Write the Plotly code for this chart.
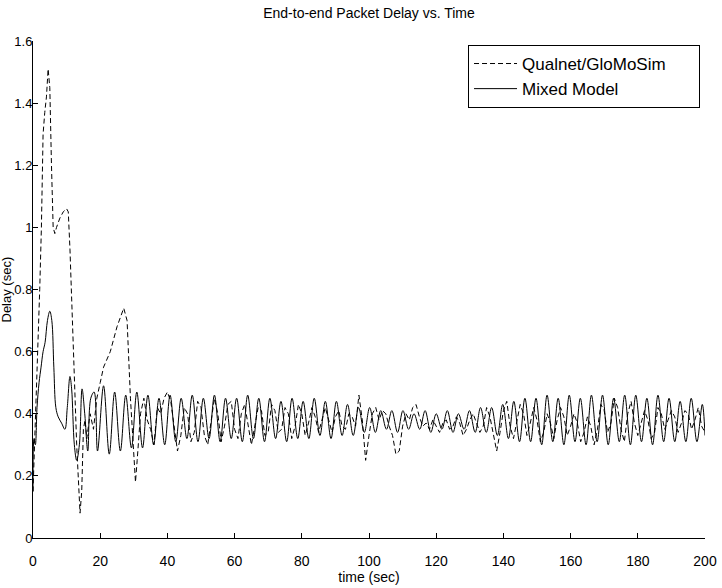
import plotly.graph_objects as go

# ---------------- data ----------------
# Qualnet/GloMoSim (dashed)
qual_t = [0, 0.5, 1.0, 1.5, 2.0, 2.5, 3.0, 3.5, 4.0, 4.5, 5.0, 5.5, 6.0, 6.5, 7.0, 8.0, 9.0, 10.0,
          10.5, 11.0, 12.0, 13.0, 14.0, 14.5, 15.0, 15.5, 16.0, 17.0, 18.0, 19.0, 20.0, 21.0,
          23.0, 25.0, 27.0, 28.0, 29.0, 30.0, 30.5, 31.0, 32.0, 33.0, 34.0, 35.0, 36.0, 37.0,
          38.0, 39.0,
          40, 41, 42, 43, 44, 45, 46, 47, 48, 49, 50, 51, 52, 53, 54, 55, 56, 57, 58, 59,
          60, 61, 62, 63, 64, 65, 66, 67, 68, 69, 70, 71, 72, 73, 74, 75, 76, 77, 78, 79,
          80, 81, 82, 83, 84, 85, 86, 87, 88, 89, 90, 91, 92, 93, 94, 95, 96, 97, 98, 99,
          100, 101, 102, 103, 104, 105, 106, 107, 108, 109, 110, 111, 112, 113, 114, 115, 116, 117, 118, 119,
          120, 121, 122, 123, 124, 125, 126, 127, 128, 129, 130, 131, 132, 133, 134, 135, 136, 137, 138, 139,
          140, 141, 142, 143, 144, 145, 146, 147, 148, 149, 150, 151, 152, 153, 154, 155, 156, 157, 158, 159,
          160, 161, 162, 163, 164, 165, 166, 167, 168, 169, 170, 171, 172, 173, 174, 175, 176, 177, 178, 179,
          180, 181, 182, 183, 184, 185, 186, 187, 188, 189, 190, 191, 192, 193, 194, 195, 196, 197, 198, 199,
          200]
qual_y = [0.15, 0.30, 0.45, 0.60, 0.80, 1.00, 1.30, 1.37, 1.42, 1.51, 1.45, 1.20, 1.00, 0.98, 1.00, 1.03, 1.05, 1.06,
          1.05, 0.93, 0.60, 0.30, 0.08, 0.15, 0.35, 0.38, 0.32, 0.40, 0.35, 0.45, 0.50, 0.55,
          0.60, 0.68, 0.74, 0.70, 0.45, 0.25, 0.18, 0.25, 0.40, 0.45, 0.38, 0.35, 0.30, 0.42,
          0.40, 0.45,
          0.47, 0.44, 0.36, 0.28, 0.33, 0.42, 0.40, 0.31, 0.34, 0.44, 0.42, 0.33, 0.30, 0.38, 0.45, 0.40, 0.31, 0.36, 0.43, 0.44,
          0.35, 0.32, 0.40, 0.43, 0.37, 0.30, 0.36, 0.42, 0.41, 0.33, 0.34, 0.43, 0.41, 0.34, 0.35, 0.42, 0.40, 0.32, 0.36, 0.43,
          0.40, 0.33, 0.37, 0.42, 0.39, 0.34, 0.38, 0.42, 0.38, 0.34, 0.39, 0.41, 0.36, 0.35, 0.40, 0.39, 0.36, 0.46, 0.38, 0.25,
          0.33, 0.40, 0.42, 0.38, 0.41, 0.40, 0.36, 0.33, 0.27, 0.28, 0.36, 0.40, 0.38, 0.42, 0.43, 0.39, 0.36, 0.37, 0.35, 0.38,
          0.36, 0.34, 0.37, 0.38, 0.35, 0.36, 0.39, 0.37, 0.33, 0.35, 0.38, 0.40, 0.37, 0.34, 0.36, 0.42, 0.39, 0.33, 0.28, 0.34,
          0.41, 0.44, 0.36, 0.32, 0.37, 0.43, 0.40, 0.33, 0.37, 0.42, 0.38, 0.31, 0.34, 0.40, 0.37, 0.32, 0.38, 0.42, 0.39, 0.33,
          0.36, 0.40, 0.37, 0.31, 0.34, 0.39, 0.36, 0.30, 0.35, 0.43, 0.41, 0.34, 0.37, 0.45, 0.42, 0.35, 0.31, 0.40, 0.44, 0.37,
          0.33, 0.37, 0.41, 0.38, 0.32, 0.34, 0.42, 0.40, 0.35, 0.38, 0.41, 0.39, 0.34, 0.37, 0.41, 0.40, 0.35, 0.38, 0.42, 0.36,
          0.34]

# Mixed Model (solid)
mixed_t = [0, 0.3, 0.7, 1.2, 1.8, 2.4, 3.0, 3.6, 4.3, 5.0, 5.6, 6.2, 6.8, 7.5, 8.5, 9.5, 10.2, 11.0, 11.5,
           12.3, 13.0, 13.8, 14.6, 15.4, 16.3, 17.2, 18.2, 19.2,
           21.0, 22.7, 24.3, 26.0, 27.6, 29.3, 30.9, 32.6, 34.2, 35.9, 37.5, 39.2,
           40.8, 42.5, 44.1, 45.8, 47.4, 49.1, 50.7, 52.4, 54.0, 55.7, 57.3, 59.0,
           60.6, 62.3, 63.9, 65.6, 67.2, 68.9, 70.5, 72.2, 73.8, 75.5, 77.1, 78.8,
           80.4, 82.1, 83.7, 85.4, 87.0, 88.7, 90.3, 92.0, 93.6, 95.3, 96.9, 98.6,
           100.2, 101.9, 103.5, 105.2, 106.8, 108.5, 110.1, 111.8, 113.4, 115.1, 116.7, 118.4,
           120.0, 121.7, 123.3, 125.0, 126.6, 128.3, 129.9, 131.6, 133.2, 134.9, 136.5, 138.2,
           139.8, 141.5, 143.1, 144.8, 146.4, 148.1, 149.7, 151.4, 153.0, 154.7, 156.3, 158.0,
           159.6, 161.3, 162.9, 164.6, 166.2, 167.9, 169.5, 171.2, 172.8, 174.5, 176.1, 177.8,
           179.4, 181.1, 182.7, 184.4, 186.0, 187.7, 189.3, 191.0, 192.6, 194.3, 195.9, 197.6,
           199.2, 200.0]
mixed_y = [0.15, 0.32, 0.30, 0.42, 0.50, 0.55, 0.60, 0.63, 0.70, 0.73, 0.70, 0.55, 0.42, 0.39, 0.37, 0.35, 0.42, 0.52, 0.48,
           0.30, 0.25, 0.30, 0.48, 0.40, 0.28, 0.45, 0.47, 0.28,
           0.49, 0.27, 0.47, 0.28, 0.46, 0.29, 0.47, 0.29, 0.46, 0.30, 0.45, 0.30,
           0.46, 0.31, 0.45, 0.32, 0.46, 0.31, 0.45, 0.32, 0.46, 0.31, 0.45, 0.32,
           0.45, 0.31, 0.46, 0.32, 0.45, 0.31, 0.45, 0.32, 0.44, 0.31, 0.45, 0.32,
           0.44, 0.32, 0.45, 0.33, 0.44, 0.32, 0.44, 0.33, 0.43, 0.33, 0.42, 0.34,
           0.42, 0.34, 0.41, 0.35, 0.41, 0.34, 0.41, 0.35, 0.40, 0.35, 0.41, 0.34,
           0.40, 0.35, 0.41, 0.34, 0.40, 0.35, 0.41, 0.34, 0.42, 0.34, 0.42, 0.33,
           0.43, 0.32, 0.44, 0.31, 0.45, 0.31, 0.45, 0.30, 0.46, 0.31, 0.45, 0.30,
           0.46, 0.31, 0.45, 0.30, 0.46, 0.31, 0.46, 0.30, 0.45, 0.31, 0.46, 0.30,
           0.46, 0.31, 0.45, 0.30, 0.46, 0.31, 0.45, 0.31, 0.44, 0.31, 0.45, 0.31,
           0.43, 0.33]

x_ticks = [0, 20, 40, 60, 80, 100, 120, 140, 160, 180, 200]
y_ticks = [0, 0.2, 0.4, 0.6, 0.8, 1.0, 1.2, 1.4, 1.6]
y_tick_text = ["0", "0.2", "0.4", "0.6", "0.8", "1", "1.2", "1.4", "1.6"]

NARROW = "Liberation Sans Narrow, Arial Narrow, Liberation Sans, Arial, sans-serif"
REG = "Liberation Sans, Arial, Helvetica, sans-serif"
FS = 14
TFS = 13
NB = "\u00a0"

fig = go.Figure()
fig.add_trace(go.Scatter(x=qual_t, y=qual_y, mode="lines", name="Qualnet/GloMoSim" + NB * 6,
                         line=dict(color="black", width=1, dash="5px,3px")))
fig.add_trace(go.Scatter(x=mixed_t, y=mixed_y, mode="lines", name="Mixed Model",
                         line=dict(color="black", width=1, shape="spline", smoothing=1.0)))

fig.update_layout(
    width=722, height=588,
    margin=dict(l=33, r=17, t=41, b=50, pad=0),
    paper_bgcolor="white", plot_bgcolor="white",
    font=dict(family=NARROW, size=FS, color="black"),
    title=dict(text="End-to-end Packet Delay vs. Time", x=0.5, xref="paper", xanchor="center",
               y=1 - 13 / 588, yref="container", yanchor="middle",
               font=dict(family=NARROW, size=FS, color="black")),
    xaxis=dict(range=[0, 200], tickvals=x_ticks, ticks="inside", ticklen=5,
               tickcolor="black", showline=True, linecolor="black", linewidth=1,
               showgrid=False, zeroline=False, mirror=False, automargin=False,
               ticklabelstandoff=10,
               title=dict(text="time (sec)", standoff=1, font=dict(family=NARROW, size=FS)),
               tickfont=dict(family=NARROW, size=FS)),
    yaxis=dict(range=[0, 1.6], tickvals=y_ticks, ticktext=y_tick_text, ticks="inside",
               ticklen=5, tickcolor="black", showline=True, linecolor="black",
               linewidth=1, showgrid=False, zeroline=False, mirror=False, automargin=False,
               ticklabelstandoff=-3,
               tickfont=dict(family=NARROW, size=TFS)),
    legend=dict(x=0.9926, y=0.992, xanchor="right", yanchor="top",
                bgcolor="white", bordercolor="black", borderwidth=1,
                font=dict(family=REG, size=17, color="black"),
                tracegroupgap=0, itemwidth=43),
    annotations=[dict(text="Delay (sec)", xref="paper", yref="paper", x=0, y=0.5,
                      xanchor="center", yanchor="middle", xshift=-27, textangle=-90,
                      showarrow=False, font=dict(family=NARROW, size=TFS, color="black"))],
    showlegend=True,
)

fig.write_html("out.html")
